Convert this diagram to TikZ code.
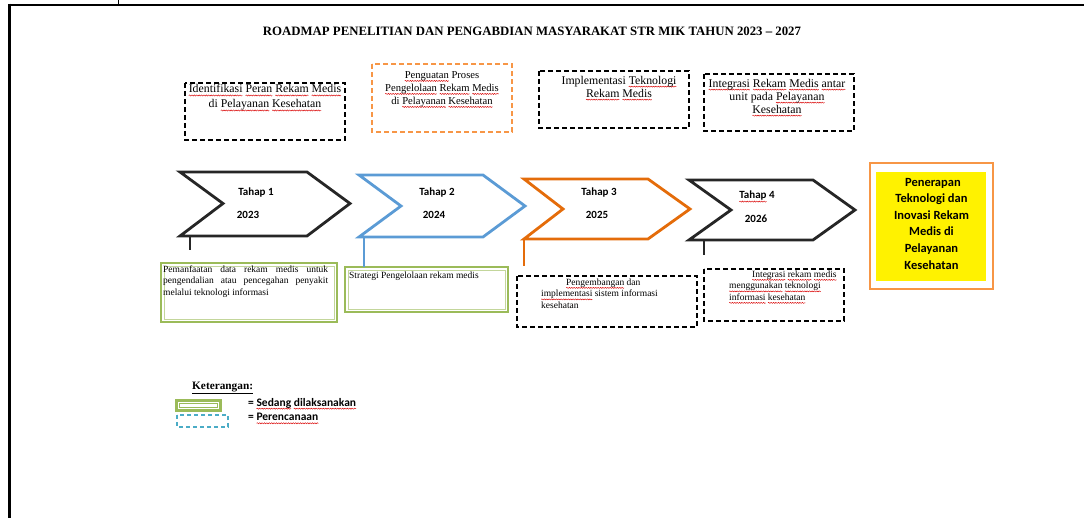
\documentclass[tikz,border=0pt]{standalone}
\usepackage{fontspec}
\setmainfont{Liberation Serif}
\newfontfamily\calfont{Carlito}
\usetikzlibrary{decorations.pathmorphing}
\newsavebox\sqbox
\newcommand\sq[1]{\sbox\sqbox{#1}\rlap{\tikz[overlay,baseline=0pt,x=1pt,y=1pt]\draw[red!85!black,line width=0.45pt,decorate,decoration={snake,amplitude=0.55pt,segment length=2.4pt}] (0,-2.6) -- (\the\wd\sqbox,-2.6);}\usebox\sqbox}
\definecolor{chevblack}{HTML}{262626}
\definecolor{chevblue}{HTML}{5B9BD5}
\definecolor{chevorange}{HTML}{E46C0A}
\definecolor{lightorange}{HTML}{F79646}
\definecolor{boxgreen}{HTML}{9BBB59}
\definecolor{boxgreenlight}{HTML}{C3D69B}
\definecolor{legendblue}{HTML}{4BACC6}
\tikzset{
  chev/.style={line width=2.8pt, line join=miter, miter limit=10},
  stem/.style={line width=2.6pt},
  dashbox/.style={line width=1.3pt, dash pattern=on 5pt off 3pt},
  topText/.style={inner sep=0pt, align=center, font=\fontsize{11.8}{13}\selectfont},
  botText/.style={inner sep=0pt, anchor=north west, font=\fontsize{9.5}{11.5}\selectfont},
  chevText/.style={inner sep=0pt, font=\calfont\bfseries\fontsize{11}{13}\selectfont},
  legText/.style={inner sep=0pt, anchor=west, font=\calfont\bfseries\fontsize{11.5}{13}\selectfont},
}
\begin{document}
\begin{tikzpicture}[x=1pt,y=-1pt]
\useasboundingbox (0,0) rectangle (1084,518);
% frame
\draw[line width=2.6pt] (8.2,5) -- (1084,5);
\draw[line width=2.6pt] (9.5,3.7) -- (9.5,518);
\draw[line width=1pt] (118,0) -- (118,5);
% title
\node[inner sep=0pt, font=\bfseries\fontsize{12.8}{14}\selectfont] (title) at (532,31) {ROADMAP PENELITIAN DAN PENGABDIAN MASYARAKAT STR MIK TAHUN 2023 – 2027};
% top boxes
\draw[dashbox, black] (185,83) rectangle (345,140);
\node[topText, font=\fontsize{11.8}{15}\selectfont] (t1) at (265,97.5) {\sq{Identifikasi} \sq{Peran} \sq{Rekam} \sq{Medis}\\di \sq{Pelayanan} \sq{Kesehatan}};
\draw[dashbox, lightorange] (372,64) rectangle (512,132);
\node[topText, font=\fontsize{10.6}{13}\selectfont] (t2) at (442,89) {\sq{Penguatan} Proses\\\sq{Pengelolaan} \sq{Rekam} \sq{Medis}\\di \sq{Pelayanan} \sq{Kesehatan}};
\draw[dashbox, black] (539,71) rectangle (689,128);
\node[topText] (t3) at (619,86.5) {Implementasi \sq{Teknologi}\\\sq{Rekam} \sq{Medis}};
\draw[dashbox, black] (704,74) rectangle (854,131);
\node[topText] (t4) at (777,96) {\sq{Integrasi} \sq{Rekam} \sq{Medis} \sq{antar}\\unit pada \sq{Pelayanan}\\\sq{Kesehatan}};
% chevrons
\draw[chev, chevblack] (180,172) -- (307,172) -- (350,203.5) -- (307,236) -- (180,236) -- (223,203.5) -- cycle;
\draw[chev, chevblue] (359,175) -- (483,175) -- (525,206) -- (483,237) -- (359,237) -- (401,206) -- cycle;
\draw[chev, chevorange] (524,179) -- (648,179) -- (690,209) -- (648,239) -- (524,239) -- (563,209) -- cycle;
\draw[chev, chevblack] (689,180) -- (813,180) -- (855,210) -- (813,240) -- (689,240) -- (731,210) -- cycle;
\node[chevText] (c1a) at (256,193) {Tahap 1};
\node[chevText] (c1b) at (248,215) {2023};
\node[chevText] (c2a) at (437,193) {Tahap 2};
\node[chevText] (c2b) at (434,215) {2024};
\node[chevText] (c3a) at (599,193) {Tahap 3};
\node[chevText] (c3b) at (597,215) {2025};
\node[chevText] (c4a) at (757,196) {\sq{Tahap} 4};
\node[chevText] (c4b) at (756,219) {2026};
% bottom boxes
\draw[line width=2pt, boxgreen] (161,263) rectangle (337,322);
\draw[line width=0.8pt, boxgreenlight] (164,266) rectangle (334,319);
\node[botText, text width=165pt, align=justify] (b1) at (163,265.5) {Pemanfaatan data rekam medis untuk pengendalian atau pencegahan penyakit melalui teknologi informasi};
\draw[line width=2pt, boxgreen] (345,267) rectangle (508,312);
\draw[line width=0.8pt, boxgreenlight] (348,270) rectangle (505,309);
\node[botText] (b2) at (349,271.5) {Strategi Pengelolaan rekam medis};
\draw[dashbox, black] (517,276) rectangle (697,327);
\node[botText, align=left] (b3) at (541,278.5) {\hspace*{25pt}\sq{Pengembangan} dan\\\sq{implementasi} sistem informasi\\kesehatan};
\draw[dashbox, black] (704,269) rectangle (844,321);
\node[botText, align=left] (b4) at (729,270.5) {\hspace*{23pt}\sq{Integrasi} \sq{rekam} \sq{medis}\\\sq{menggunakan} \sq{teknologi}\\\sq{informasi} \sq{kesehatan}};
% stems
\coordinate (s1) at (190,250);
\draw[stem, chevblack] (190,236) -- (s1);
\draw[stem, chevblue] (364,237) -- (364,267);
\draw[stem, chevorange] (524,239) -- (524,266);
\coordinate (s4) at (704,255);
\draw[stem, chevblack] (704,240) -- (s4);
% final box
\draw[line width=1.5pt, lightorange] (870,163) rectangle (993,289);
\fill[yellow] (876,172) rectangle (986,281);
\node[inner sep=0pt, align=center, font=\calfont\bfseries\fontsize{12.5}{16.6}\selectfont] (fin) at (931.5,223.5) {\ Penerapan\\Teknologi dan\\Inovasi Rekam\\Medis di\\Pelayanan\\Kesehatan};
% legend
\node[inner sep=0pt, anchor=west, font=\bfseries\fontsize{11.3}{13}\selectfont] (ket) at (192,388) {\underline{Keterangan:}};
\fill[boxgreen] (175,399) rectangle (222,412);
\fill[white] (178,402) rectangle (219,409);
\draw[line width=0.6pt, boxgreen] (179.5,403.5) rectangle (217.5,407.5);
\draw[line width=1.2pt, legendblue, dash pattern=on 4pt off 3pt] (177,415) rectangle (228,427);
\node[legText] (l1) at (248,403) {= \sq{Sedang} \sq{dilaksanakan}};
\node[legText] (l2) at (248,417) {= \sq{Perencanaan}};
\end{tikzpicture}
\end{document}
